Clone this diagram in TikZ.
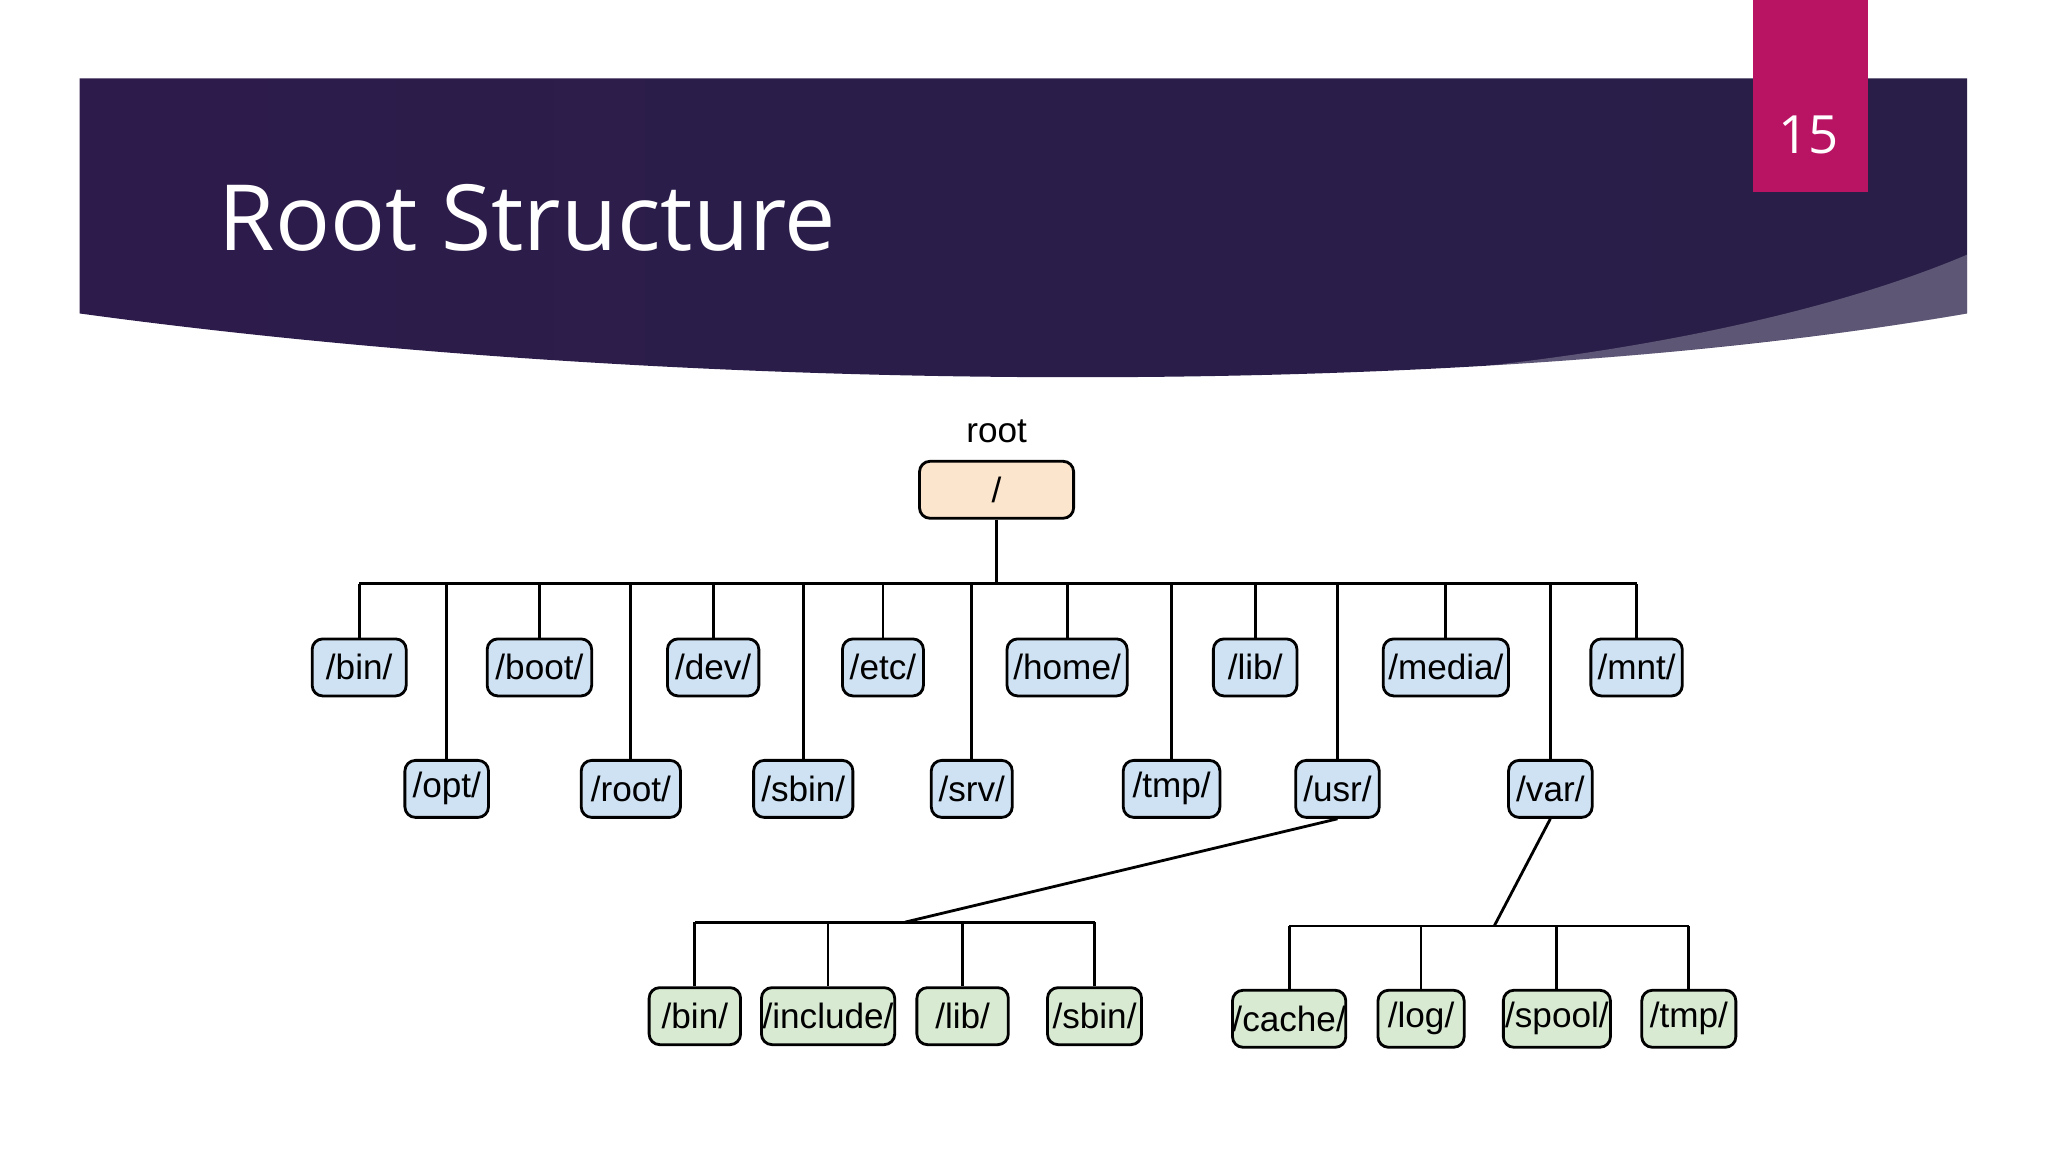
\documentclass[tikz,border=0pt]{standalone}
\usepackage{fontspec}
\setmainfont{Liberation Sans}
\newfontfamily\titlefont{Open Sans}
\definecolor{dirblue}{RGB}{207,226,243}
\definecolor{dirgreen}{RGB}{217,234,211}
\definecolor{dirpeach}{RGB}{252,229,205}
\definecolor{tabmag}{RGB}{185,20,100}
\tikzset{
  dir/.style={draw=black, thick, rounded corners=3pt, minimum height=0.57cm, inner sep=0pt, font=\fontsize{10}{12}\selectfont},
  link/.style={black, thick}
}
\begin{document}
\begin{tikzpicture}[x=0.01306cm, y=-0.01306cm]
    \useasboundingbox (0,0) rectangle (1568,882);
    \fill[white] (0,0) rectangle (1568,882);

    % banner
    \shade[left color={rgb,255:red,45;green,28;blue,75}, middle color={rgb,255:red,110;green,42;blue,98}, right color={rgb,255:red,40;green,30;blue,72}]
        (61,60) -- (1506,60) -- (1506,240) .. controls (1100,310) and (500,300) .. (61,240) -- cycle;
    \fill[white, opacity=0.25] (1506,195) .. controls (1400,240) and (1250,270) .. (1100,284) .. controls (1300,270) and (1420,255) .. (1506,240) -- cycle;
    \node[anchor=base west, white, font=\titlefont\fontsize{26}{30}\selectfont] (title) at (158,192) {Root Structure};

    % page tab
    \fill[tabmag] (1342,0) rectangle (1430,147);
    \node[white, font=\titlefont\fontsize{15}{18}\selectfont] (page) at (1385,103) {15};

    % root
    \node[dir, fill=dirpeach, minimum width=118*0.01306cm] (root) at (763,375) {/};
    \node (rootlbl) at (763,330) {\fontsize{10}{12}\selectfont root};

    % first level
    \coordinate (busA) at (0,447);
    \draw[link] (root.south) -- (root.south |- busA);
    \draw[link] (275,447) coordinate (busL) -- (1253,447) coordinate (busR);
    \foreach \n/\t/\x/\w in {bin/bin/275/72, boot/boot/413/80, dev/dev/546/70, etc/etc/676/62,
                             home/home/817/92, lib/lib/961/64, media/media/1107/96, mnt/mnt/1253/70}
    {
        \node[dir, fill=dirblue, minimum width=\w*0.01306cm] (\n) at (\x,511) {/\t/};
        \draw[link] (\n.north) -- (\n.north |- busA);
    }
    \foreach \n/\t/\x/\w in {opt/opt/342/64, rootdir/root/483/76, sbin/sbin/615/76, srv/srv/744/62,
                             tmp/tmp/897/74, usr/usr/1024/64, var/var/1187/64}
    {
        \node[dir, fill=dirblue, minimum width=\w*0.01306cm] (\n) at (\x,604) {/\t/};
        \draw[link] (\n.north) -- (\n.north |- busA);
    }

    % /usr/ children
    \coordinate (usrbus) at (693,706);
    \draw[link] (usr.south) -- (usrbus);
    \draw[link] (532,706) -- (838,706);
    \foreach \n/\t/\x/\w in {ubin/bin/532/70, uinclude/include/634/102, ulib/lib/737/70, usbin/sbin/838/72}
    {
        \node[dir, fill=dirgreen, minimum width=\w*0.01306cm] (\n) at (\x,778) {/\t/};
        \draw[link] (\n.north) -- (\n.north |- usrbus);
    }

    % /var/ children
    \coordinate (varbus) at (1144,709);
    \draw[link] (var.south) -- (varbus);
    \draw[link] (987,709) -- (1293,709);
    \foreach \n/\t/\x/\w in {vcache/cache/987/84, vlog/log/1088/66, vspool/spool/1192/82, vtmp/tmp/1293/72}
    {
        \node[dir, fill=dirgreen, minimum width=\w*0.01306cm] (\n) at (\x,780) {/\t/};
        \draw[link] (\n.north) -- (\n.north |- varbus);
    }
\end{tikzpicture}
\end{document}
